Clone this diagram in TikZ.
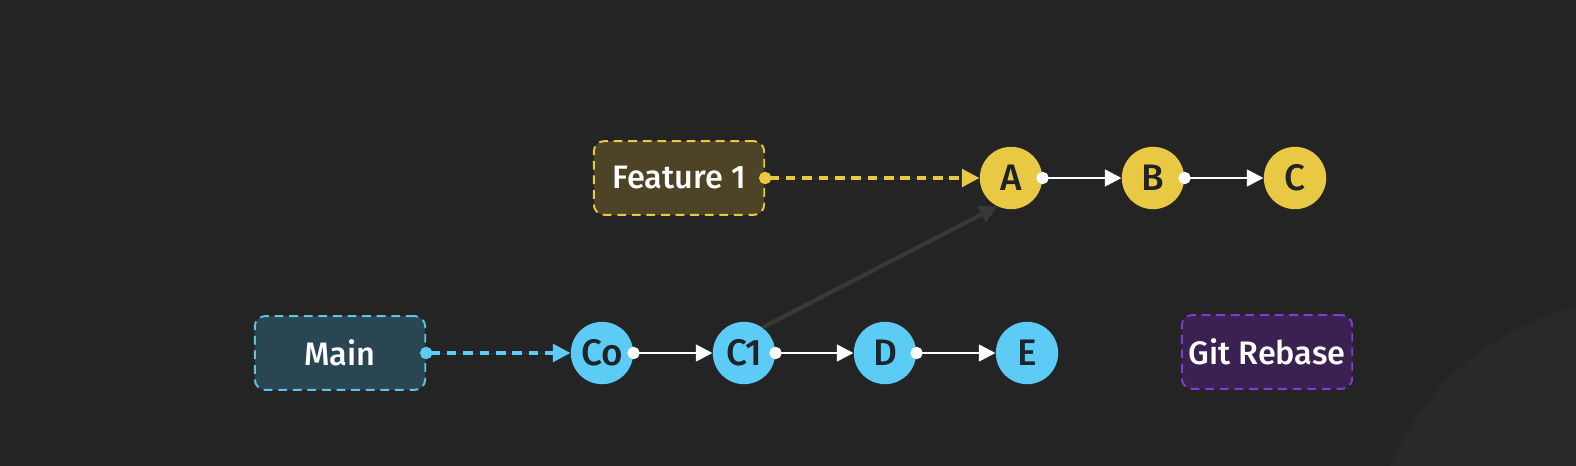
\documentclass[tikz,border=0pt]{standalone}
\usepackage{fontspec}
\setmainfont{Fira Sans Medium}
\usetikzlibrary{arrows.meta}
\definecolor{bg}{HTML}{242424}
\definecolor{bglight}{HTML}{292929}
\definecolor{ylw}{HTML}{E9C843}
\definecolor{cyn}{HTML}{5CCBF5}
\definecolor{featfill}{HTML}{4D4327}
\definecolor{mainfill}{HTML}{2A4652}
\definecolor{mainline}{HTML}{5BC5E8}
\definecolor{gitfill}{HTML}{3A2152}
\definecolor{gitline}{HTML}{7B3FD0}
\definecolor{ctext}{HTML}{1E2328}
\definecolor{ghost}{HTML}{383838}
\tikzset{
  commit/.style={circle, minimum size=35.5pt, inner sep=0pt, text=ctext,
    font=\fontsize{21}{21}\selectfont},
  yc/.style={commit, fill=ylw},
  cc/.style={commit, fill=cyn},
  branch/.style={rounded corners=6pt, minimum width=97pt, minimum height=42pt,
    line width=1.1pt, dash pattern=on 5pt off 3.3pt, text=white,
    font=\fontsize{18.5}{18.5}\selectfont},
  link/.style={draw=white, line width=1.6pt, shorten <=-3.5pt,
    {Circle[length=7pt]}-{Triangle[length=9.5pt,width=9.5pt]}},
  ptr/.style={line width=2.1pt, dash pattern=on 5.5pt off 3.8pt, shorten <=-3.5pt,
    {Circle[length=7pt]}-{Triangle[length=10pt,width=10pt]}}
}
\begin{document}
\begin{tikzpicture}[x=0.02cm,y=-0.02cm]
\fill[bg] (0,0) rectangle (1576,466);
\begin{scope}
\clip (0,0) rectangle (1576,466);
\fill[bglight] (1635,564) circle[radius=263];
\end{scope}
\useasboundingbox (0,0) rectangle (1576,466);

\node[branch, draw=ylw, fill=featfill] (feat) at (679,178) {Feature 1};
\node[branch, draw=mainline, fill=mainfill] (main) at (340,353) {Main};
\node[branch, draw=gitline, fill=gitfill] (git) at (1267,352) {Git Rebase};

\node[yc] (A) at (1011,178) {A};
\node[yc] (B) at (1153,178) {B};
\node[yc] (C) at (1295,178) {C};

\node[cc] (C0) at (602,353) {Co};
\node[cc] (C1) at (744,353) {C1};
\node[cc] (D) at (885,353) {D};
\node[cc] (E) at (1027,353) {E};

\draw[link] (A) -- (B);
\draw[link] (B) -- (C);
\draw[link] (C0) -- (C1);
\draw[link] (C1) -- (D);
\draw[link] (D) -- (E);

\draw[ptr, draw=ylw, fill=ylw] (feat.east) -- (A.west);
\draw[ptr, draw=cyn, fill=cyn] (main.east) -- (C0.west);

\draw[ghost, line width=2.4pt, -{Triangle[length=10pt,width=10pt]}] (C1.54) -- (A.244);
\end{tikzpicture}
\end{document}
